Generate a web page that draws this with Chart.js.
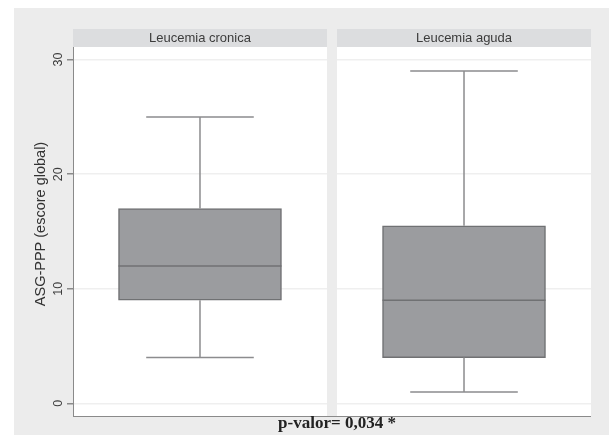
<!DOCTYPE html>
<html>
<head>
<meta charset="utf-8">
<script src="https://cdn.jsdelivr.net/npm/chart.js@4/dist/chart.umd.min.js"></script>
<style>
  html, body { margin: 0; padding: 0; background: #ffffff; }
  #wrap { position: relative; width: 609px; height: 435px; }
</style>
</head>
<body>
<div id="wrap"><canvas id="c" width="609" height="435"></canvas></div>
<script>
// Panels (one box per group)
const groups = ['Leucemia cronica', 'Leucemia aguda'];
const lowWhisker = [4, 1];
const q1 = [9, 4];
const median = [12, 9];
const q3 = [17, 15.5];
const highWhisker = [25, 29];
const yTicks = [0, 10, 20, 30];
const yTitle = 'ASG-PPP (escore global)';
const note = 'p-valor= 0,034 *';

const BG = '#ececec';
const STRIP = '#dcdddf';
const BOX_FILL = '#9b9c9f';
const BOX_LINE = '#707173';
const WHISK = '#8c8c8e';
const GAP = 10;

function panelRects(chart) {
  const a = chart.chartArea;
  const mid = (a.left + a.right) / 2;
  return [
    { l: a.left, r: mid - GAP / 2 },
    { l: mid + GAP / 2, r: a.right }
  ];
}

const panels = {
  id: 'panels',
  beforeDraw(chart) {
    const ctx = chart.ctx, a = chart.chartArea;
    ctx.save();
    ctx.fillStyle = '#ffffff';
    ctx.fillRect(0, 0, chart.width, chart.height);
    ctx.fillStyle = BG;
    ctx.fillRect(14, 8, chart.width - 14, chart.height - 8);
    panelRects(chart).forEach((p, i) => {
      ctx.fillStyle = '#ffffff';
      ctx.fillRect(p.l, a.top, p.r - p.l, a.bottom - a.top);
      ctx.fillStyle = STRIP;
      ctx.fillRect(p.l, a.top - 18, p.r - p.l, 18);
      ctx.fillStyle = '#3c3c3c';
      ctx.font = '13px "Liberation Sans", Arial, sans-serif';
      ctx.textAlign = 'center';
      ctx.textBaseline = 'middle';
      ctx.fillText(groups[i], (p.l + p.r) / 2, a.top - 8.5);
    });
    ctx.restore();
  },
  beforeDatasetsDraw(chart) {
    const ctx = chart.ctx, a = chart.chartArea;
    const mid = (a.left + a.right) / 2;
    ctx.save();
    ctx.fillStyle = BG;
    ctx.fillRect(mid - GAP / 2, a.top, GAP, a.bottom - a.top);
    ctx.restore();
  },
  afterDatasetsDraw(chart) {
    const ctx = chart.ctx, a = chart.chartArea;
    const xs = chart.scales.x, ys = chart.scales.y;
    const meta = chart.getDatasetMeta(0);
    ctx.save();
    groups.forEach((g, i) => {
      const cx = xs.getPixelForValue(i);
      const bw = meta.data[i].width;
      const cap = bw * 0.33;
      // whiskers
      ctx.strokeStyle = WHISK;
      ctx.lineWidth = 1.5;
      ctx.beginPath();
      ctx.moveTo(cx, ys.getPixelForValue(q3[i]));
      ctx.lineTo(cx, ys.getPixelForValue(highWhisker[i]));
      ctx.moveTo(cx - cap, ys.getPixelForValue(highWhisker[i]));
      ctx.lineTo(cx + cap, ys.getPixelForValue(highWhisker[i]));
      ctx.moveTo(cx, ys.getPixelForValue(q1[i]));
      ctx.lineTo(cx, ys.getPixelForValue(lowWhisker[i]));
      ctx.moveTo(cx - cap, ys.getPixelForValue(lowWhisker[i]));
      ctx.lineTo(cx + cap, ys.getPixelForValue(lowWhisker[i]));
      ctx.stroke();
      // median
      ctx.strokeStyle = BOX_LINE;
      ctx.lineWidth = 1.5;
      ctx.beginPath();
      ctx.moveTo(cx - bw / 2, ys.getPixelForValue(median[i]));
      ctx.lineTo(cx + bw / 2, ys.getPixelForValue(median[i]));
      ctx.stroke();
    });
    // bottom axis line spanning both panels
    ctx.strokeStyle = '#8a8a8a';
    ctx.lineWidth = 1;
    ctx.beginPath();
    ctx.moveTo(a.left, a.bottom + 0.5);
    ctx.lineTo(a.right, a.bottom + 0.5);
    ctx.stroke();
    // rotated tick labels
    ctx.fillStyle = '#3c3c3c';
    ctx.font = '12.5px "Liberation Sans", Arial, sans-serif';
    ctx.textAlign = 'center';
    ctx.textBaseline = 'middle';
    yTicks.forEach(v => {
      ctx.save();
      ctx.translate(a.left - 14, ys.getPixelForValue(v));
      ctx.rotate(-Math.PI / 2);
      ctx.fillText(String(v), 0, 0);
      ctx.restore();
    });
    // axis title
    ctx.save();
    ctx.font = '14.5px "Liberation Sans", Arial, sans-serif';
    ctx.fillStyle = '#333333';
    ctx.translate(41, 224);
    ctx.rotate(-Math.PI / 2);
    ctx.fillText(yTitle, 0, 0);
    ctx.restore();
    // note under the plot
    ctx.font = 'bold 17px "Liberation Serif", "Times New Roman", serif';
    ctx.fillStyle = '#222222';
    ctx.fillText(note, 337, 424);
    ctx.restore();
  }
};

new Chart(document.getElementById('c'), {
  type: 'bar',
  data: {
    datasets: [{
      data: groups.map((g, i) => ({ x: i, y: [q1[i], q3[i]] })),
      backgroundColor: BOX_FILL,
      borderColor: BOX_LINE,
      borderWidth: 1.5,
      borderSkipped: false,
      barThickness: 163
    }]
  },
  options: {
    responsive: false,
    animation: false,
    events: [],
    layout: { padding: { left: 10, top: 47, right: 18, bottom: 19 } },
    plugins: { legend: { display: false }, tooltip: { enabled: false }, title: { display: false } },
    scales: {
      x: { type: 'linear', min: -0.481, max: 1.481, offset: false, display: false },
      y: {
        min: -1.1, max: 31.1,
        afterBuildTicks: s => { s.ticks = yTicks.map(v => ({ value: v })); },
        afterFit: s => { s.width = 63; },
        ticks: { display: false },
        grid: { color: '#efefef', lineWidth: 1.5, tickLength: 6, tickColor: '#8a8a8a', drawTicks: true },
        border: { display: true, color: '#8a8a8a', width: 1 }
      }
    }
  },
  plugins: [panels]
});
</script>
</body>
</html>
